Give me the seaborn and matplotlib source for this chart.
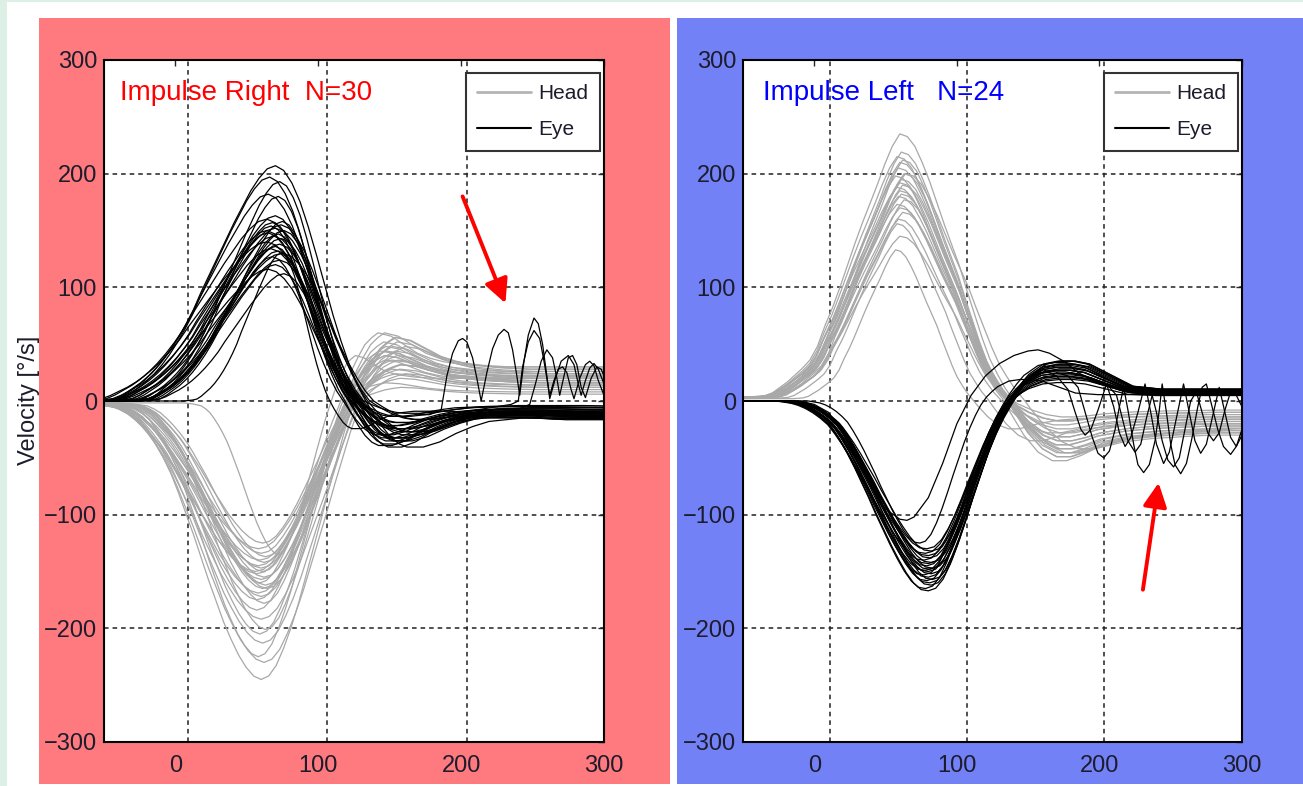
import numpy as np
import pandas as pd
import matplotlib
matplotlib.use("Agg")
import matplotlib.pyplot as plt
from matplotlib.patches import Rectangle
from matplotlib.lines import Line2D
import seaborn as sns

sns.set_style("white")
plt.rcParams["font.family"] = ["Liberation Sans", "DejaVu Sans"]
NARROW = ["Liberation Sans Narrow", "Liberation Sans", "DejaVu Sans"]

# ---------------- data ----------------
KNOT_T = [-200, -50, -40, -30, -25, -20, -15, -10, -5, 0, 5, 10, 15, 20, 25, 30, 35, 40,
          45, 50, 55, 60, 65, 70, 75, 80, 85, 90, 95, 100, 105, 110, 115, 120, 125, 130,
          135, 140, 145, 150, 160, 170, 180, 190, 200, 220, 240, 260, 280, 300, 330, 360, 500]

# mean trace shapes
LE_SHAPE = [0, 0, 0, 1, 2, 5, 9, 13, 18, 24, 31, 39, 48, 58, 70, 81, 92, 103, 114, 124, 134,
            142, 148, 150, 147, 139, 127, 111, 93, 74, 55, 38, 23, 10, 0, -8, -15, -21, -25,
            -27, -27, -24, -19, -15, -12, -10, -10, -10, -11, -11, -11, -11, -11]
LH_SHAPE = [-2, -2, -3, -5, -8, -12, -18, -25, -33, -42, -53, -65, -77, -90, -103, -115, -127,
            -137, -146, -153, -158, -160, -158, -152, -142, -130, -116, -100, -84, -68, -51,
            -35, -19, -5, 7, 18, 26, 33, 37, 40, 38, 33, 28, 25, 23, 21, 20, 20, 20, 20, 20, 20, 20]
RH_SHAPE = [3, 3, 3, 4, 6, 10, 14, 19, 24, 30, 40, 55, 68, 83, 99, 115, 130, 144, 158, 173,
            186, 195, 193, 186, 174, 160, 144, 128, 113, 98, 80, 63, 46, 31, 20, 10, 2, -6,
            -13, -20, -30, -35, -35, -32, -28, -24, -22, -21, -20, -20, -20, -20, -20]
RE_SHAPE = [0, 0, 0, 0, 0, 0, -1, -2, -4, -7, -11, -16, -22, -31, -41, -52, -64, -76, -89,
            -101, -113, -124, -134, -142, -147, -148, -146, -139, -127, -112, -95, -77, -60,
            -43, -28, -15, -4, 5, 12, 18, 25, 27, 27, 25, 20, 10, 8, 8, 8, 8, 8, 8, 8]

# individual traces: peak value, time shift (ms), width factor, after-pulse factor
LE_AMP = [207, 197, 193, 182, 180, 163, 160, 158, 157, 155, 154, 152, 150, 148, 147, 145,
          143, 140, 138, 136, 134, 132, 130, 127, 124, 120, 116, 112, 150, 130]
LE_SHIFT = [0, -4, 3, -5, 2, 0, -6, 5, -2, 4, -3, 0, 6, -5, 2, -1, 4, -6, 3, 0, -3, 2, 5,
            -2, 3, 0, -5, 6, -6, 4]
LE_WIDTH = [1.15, 1.08, 0.95, 1.12, 0.92, 1.05, 1.18, 0.9, 1.0, 1.1, 0.94, 1.2, 0.97, 1.06,
            0.9, 1.14, 0.98, 1.22, 1.02, 0.93, 1.1, 0.96, 1.16, 0.9, 1.04, 0.95, 1.12, 0.92,
            1.1, 0.62]
LE_TAIL = [1.5, 0.7, 1.2, 0.9, 1.4, 0.5, 1.1, 1.3, 0.8, 1.0, 1.45, 0.6, 1.2, 0.9, 1.1, 0.4,
           1.3, 1.0, 0.7, 1.2, 0.9, 1.5, 0.6, 1.1, 1.0, 0.8, 1.3, 0.5, 1.2, 0.9]

LH_AMP = [-245, -230, -225, -213, -205, -201, -192, -184, -178, -172, -169, -165, -162,
          -160, -157, -155, -152, -150, -147, -145, -142, -140, -137, -134, -130, -125,
          -150, -165, -175, -135]
LH_SHIFT = [0, 2, -2, 1, -1, 3, 0, -3, 2, 0, -2, 1, 3, -1, 0, 2, -3, 1, 0, -2, 2, -1, 3, 0,
            -2, 1, -4, 4, -3, 12]
LH_WIDTH = [1.05, 1.1, 0.95, 1.08, 0.97, 0.93, 1.12, 1.0, 0.94, 1.06, 1.1, 0.96, 1.03, 0.92,
            1.08, 1.0, 1.12, 0.95, 1.04, 1.07, 0.94, 1.1, 0.92, 1.02, 1.08, 0.96, 1.12, 1.0,
            1.05, 0.6]
LH_TAIL = [1.4, 0.6, 1.1, 0.8, 1.5, 0.9, 1.2, 0.4, 1.0, 1.3, 0.7, 1.1, 0.9, 1.5, 0.5, 1.2,
           0.8, 1.0, 1.4, 0.6, 1.1, 0.3, 1.3, 0.7, 1.0, 1.2, 0.8, 1.1, 0.9, 1.0]

RH_AMP = [235, 219, 215, 212, 210, 205, 200, 198, 195, 192, 190, 188, 185, 182, 180, 177,
          173, 170, 166, 160, 156, 145, 133, 200]
RH_SHIFT = [0, 1, -2, 2, 0, -1, 3, -3, 1, 0, 2, -2, 0, 1, -1, 3, -2, 0, 2, -1, -2, 0, -3, 4]
RH_WIDTH = [1.05, 1.0, 1.02, 0.98, 1.0, 1.03, 0.97, 1.0, 1.02, 0.99, 1.0, 1.04, 0.98, 1.0,
            1.01, 0.97, 1.02, 1.0, 0.98, 0.95, 0.85, 1.0, 0.72, 1.1]
RH_TAIL = [1.3, 0.5, 1.0, 1.4, 0.7, 1.2, 0.9, 1.5, 0.4, 1.1, 0.8, 1.3, 0.6, 1.0, 1.2, 0.9,
           1.4, 0.5, 1.1, 0.8, 1.0, 1.3, 0.7, 1.2]

RE_AMP = [-167, -165, -162, -160, -158, -157, -155, -153, -152, -150, -149, -148, -147,
          -145, -143, -142, -140, -138, -136, -134, -132, -130, -125]
RE_SHIFT = [0, -2, 2, 1, -1, 3, 0, -3, 2, 0, -2, 1, 3, -1, 0, 2, -3, 1, 0, -2, 2, -1, -6]
RE_WIDTH = [1.03, 1.0, 0.98, 1.02, 1.0, 0.97, 1.02, 1.0, 0.98, 1.01, 1.03, 0.99, 1.0, 0.97,
            1.02, 1.0, 1.04, 0.98, 1.0, 1.01, 0.99, 1.02, 0.78]
RE_TAIL = [1.2, 0.8, 1.0, 1.3, 0.9, 1.1, 0.7, 1.25, 1.0, 0.85, 1.15, 0.6, 1.3, 0.95, 1.05,
           0.75, 1.2, 0.9, 1.1, 1.0, 0.8, 1.3, 0.7]

# explicit traces (outlier / oscillating eye traces)
RE_OUT_T = [-50, -10, 0, 10, 20, 30, 40, 50, 60, 65, 70, 80, 90, 100, 110, 120, 130, 140,
            150, 157, 165, 175, 185, 200, 220, 250, 300]
RE_OUT_V = [0, 0, -3, -10, -28, -52, -76, -95, -104, -105, -102, -85, -55, -20, 5, 22, 33,
            40, 44, 45, 42, 35, 25, 15, 8, 5, 5]

L_OSC_A_T = [170, 178, 186, 190, 194, 198, 201, 204, 208, 211, 214, 218, 222, 226, 230, 233,
             236, 239, 241, 244, 247, 251, 254, 257, 260, 262, 266, 270, 275, 279, 282, 284,
             287, 290, 293, 296, 300]
L_OSC_A_V = [-12, -12, -8, 22, 42, 53, 55, 52, 38, 20, 0, 25, 46, 58, 63, 60, 45, 22, 5, 35,
             58, 73, 68, 50, 22, 2, 20, 35, 40, 32, 15, 5, 18, 29, 33, 28, 15]
L_OSC_B_T = [195, 210, 225, 235, 240, 243, 247, 251, 255, 258, 262, 265, 268, 271, 274, 277,
             279, 283, 287, 290, 293, 296, 300]
L_OSC_B_V = [-12, -8, -5, -3, 0, 30, 52, 62, 55, 35, 5, 18, 28, 30, 25, 10, 2, 20, 32, 35,
             31, 18, 5]
L_OSC_C_T = [215, 235, 248, 252, 256, 260, 264, 267, 269, 272, 275, 278, 281, 284, 287, 291,
             295, 298, 300]
L_OSC_C_V = [-12, -10, -3, 15, 35, 45, 38, 20, 5, 22, 38, 40, 32, 12, 3, 20, 30, 28, 22]

R_OSC_A_T = [170, 178, 185, 190, 195, 199, 203, 207, 211, 214, 217, 220, 224, 227, 231, 235,
             239, 242, 244, 247, 250, 253, 257, 261, 265, 269, 272, 275, 279, 283, 287, 292,
             296, 300]
R_OSC_A_V = [25, 22, 12, -10, -32, -46, -50, -44, -25, -5, 12, -8, -38, -56, -63, -56, -35,
             -8, 15, -10, -38, -56, -64, -55, -32, -5, 12, 15, -5, -25, -40, -47, -40, -25]
R_OSC_B_T = [160, 170, 178, 183, 187, 190, 194, 199, 205, 210, 214, 218, 222, 227, 232, 236,
             240, 245, 249, 254, 259, 263, 267, 271, 275, 280, 284, 288, 292, 296, 300]
R_OSC_B_V = [28, 22, 10, -10, -25, -30, -25, -8, 15, -5, -28, -40, -32, -10, 15, -10, -38,
             -55, -45, -15, 15, -10, -35, -46, -38, -10, 12, -10, -32, -40, -30]
R_OSC_C_T = [180, 195, 205, 212, 216, 220, 225, 229, 233, 237, 240, 244, 248, 252, 256, 260,
             264, 268, 272, 276, 280, 284, 288, 292, 296, 300]
R_OSC_C_V = [25, 20, 15, 5, -15, -35, -45, -38, -15, 5, -10, -35, -52, -58, -50, -25, 0, 8,
             -10, -28, -35, -28, -8, 8, 5, -5]

X_TICKS = [0, 100, 200, 300]
Y_TICKS = [-300, -200, -100, 0, 100, 200, 300]
GRID_X_LEFT = [9, 106, 204]
GRID_X_RIGHT = [11, 107, 203]
TITLES = ["Impulse Right  N=30", "Impulse Left   N=24"]
ARROW_LEFT = [(201, 180), (231, 86)]
ARROW_RIGHT = [(230.5, -166), (241.5, -72)]


def traces(shape, peak_t, ref, tail_from, amps, shifts, widths, tails, kind, prefix):
    rows = []
    knots = np.array(KNOT_T, dtype=float)
    shp = np.array(shape, dtype=float)
    after = knots >= tail_from
    for i, (a, s, w, k) in enumerate(zip(amps, shifts, widths, tails)):
        t = peak_t + (knots - peak_t) * w + s
        v = np.where(after, shp * k, shp * a / ref)
        rows.append(pd.DataFrame({"t": t, "v": v, "kind": kind, "trace": f"{prefix}{i}"}))
    return rows


def explicit(t, v, kind, name):
    return [pd.DataFrame({"t": t, "v": v, "kind": kind, "trace": name})]


left_df = pd.concat(
    traces(LH_SHAPE, 60, -160, 125, LH_AMP, LH_SHIFT, LH_WIDTH, LH_TAIL, "Head", "LH")
    + traces(LE_SHAPE, 70, 150, 130, LE_AMP, LE_SHIFT, LE_WIDTH, LE_TAIL, "Eye", "LE")
    + explicit(L_OSC_A_T, L_OSC_A_V, "Eye", "LOA")
    + explicit(L_OSC_B_T, L_OSC_B_V, "Eye", "LOB")
    + explicit(L_OSC_C_T, L_OSC_C_V, "Eye", "LOC"),
    ignore_index=True)
right_df = pd.concat(
    traces(RH_SHAPE, 60, 195, 140, RH_AMP, RH_SHIFT, RH_WIDTH, RH_TAIL, "Head", "RH")
    + traces(RE_SHAPE, 80, -148, 140, RE_AMP, RE_SHIFT, RE_WIDTH, RE_TAIL, "Eye", "RE")
    + explicit(RE_OUT_T, RE_OUT_V, "Eye", "REO")
    + explicit(R_OSC_A_T, R_OSC_A_V, "Eye", "ROA")
    + explicit(R_OSC_B_T, R_OSC_B_V, "Eye", "ROB")
    + explicit(R_OSC_C_T, R_OSC_C_V, "Eye", "ROC"),
    ignore_index=True)

# ---------------- figure ----------------
W, H = 1303, 786
fig = plt.figure(figsize=(W / 100, H / 100), dpi=100, facecolor="white")


def fig_rect(x0, y0, x1, y1, color):
    fig.add_artist(Rectangle((x0 / W, 1 - y1 / H), (x1 - x0) / W, (y1 - y0) / H,
                             transform=fig.transFigure, facecolor=color, edgecolor="none",
                             zorder=-10))


fig_rect(0, 0, 7, H, "#DDF0E6")
fig_rect(0, 0, W, 2, "#DDF0E6")
fig_rect(39, 18, 670, 784, "#FF7A7E")
fig_rect(677, 18, W, 784, "#7381F6")

ax_l = fig.add_axes([104 / W, 1 - 742 / H, 500 / W, 682 / H])
ax_r = fig.add_axes([743 / W, 1 - 742 / H, 499 / W, 682 / H])

palette = {"Head": "#A8A8A8", "Eye": "#000000"}
panels = [(ax_l, left_df, GRID_X_LEFT, TITLES[0], "#FF0000", 0.032, ARROW_LEFT),
          (ax_r, right_df, GRID_X_RIGHT, TITLES[1], "#0000FF", 0.040, ARROW_RIGHT)]

for ax, df, gx, title, tcol, tx, arrow in panels:
    ax.set_facecolor("white")
    sns.lineplot(data=df, x="t", y="v", hue="kind", hue_order=["Head", "Eye"],
                 units="trace", estimator=None, palette=palette, linewidth=0.9,
                 sort=False, legend=False, ax=ax)
    ax.set_xlim(-50, 300)
    ax.set_ylim(-300, 300)
    ax.set_xticks(X_TICKS)
    ax.set_yticks(Y_TICKS)
    ax.set_xticks(gx, minor=True)
    ax.set_xlabel("")
    ax.set_ylabel("")
    ax.set_axisbelow(True)
    ax.yaxis.grid(True, which="major", color="#202020", linestyle=(0, (3, 2.6)), linewidth=1.1)
    ax.xaxis.grid(True, which="minor", color="#202020", linestyle=(0, (3, 2.6)), linewidth=1.1)
    ax.xaxis.grid(False, which="major")
    ax.tick_params(which="major", direction="in", length=4, width=1, top=True, right=True,
                   labelsize=17, labelcolor="#1C1C2C")
    ax.tick_params(which="minor", length=0)
    ax.tick_params(axis="x", pad=9)
    ax.tick_params(axis="y", pad=5)
    for sp in ax.spines.values():
        sp.set_color("black")
        sp.set_linewidth(1.5)
        sp.set_visible(True)
    ax.text(tx, 0.951, title, transform=ax.transAxes, color=tcol, fontsize=20,
            family=NARROW, ha="left", va="center")
    handles = [Line2D([], [], color="#B4B4B4", lw=2), Line2D([], [], color="black", lw=1.5)]
    leg = ax.legend(handles, ["Head", "Eye"], loc="upper right", bbox_to_anchor=(0.992, 0.981),
                    borderaxespad=0, frameon=True, fancybox=False, edgecolor="#333333",
                    framealpha=1, prop={"family": NARROW, "size": 15}, handlelength=2.6,
                    handletextpad=0.35, labelspacing=0.8, borderpad=0.55)
    leg.get_frame().set_linewidth(1.5)
    for txt in leg.get_texts():
        txt.set_color("#1C1C2C")
    ax.annotate("", xy=arrow[1], xytext=arrow[0],
                arrowprops=dict(arrowstyle="-|>,head_length=0.9,head_width=0.45",
                                color="#FF0000", lw=2.8, mutation_scale=16,
                                shrinkA=0, shrinkB=0))

fig.text(28.5 / W, 1 - 400 / H, "Velocity [°/s]", rotation=90, ha="center", va="center",
         fontsize=17, color="#1C1C2C")

fig.savefig("out.png", dpi=100, facecolor="white")
